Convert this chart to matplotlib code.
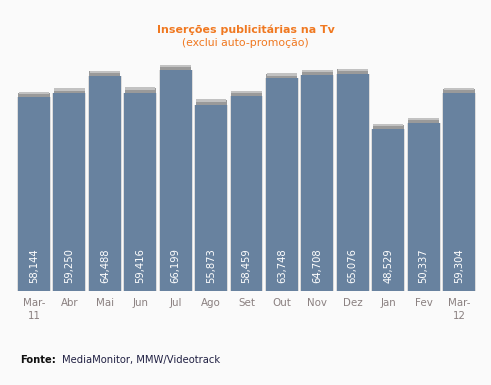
import matplotlib as mpl
import matplotlib.pyplot as plt
import numpy as np

mpl.rcParams["font.family"] = "DejaVu Sans"

# Data
months = ["Mar-\n11", "Abr", "Mai", "Jun", "Jul", "Ago", "Set", "Out", "Nov", "Dez", "Jan", "Fev", "Mar-\n12"]
insercoes = [58144, 59250, 64488, 59416, 66199, 55873, 58459, 63748, 64708, 65076, 48529, 50337, 59304]
value_labels = ["58,144", "59,250", "64,488", "59,416", "66,199", "55,873", "58,459",
                "63,748", "64,708", "65,076", "48,529", "50,337", "59,304"]

bg = "#fafafa"
fig = plt.figure(figsize=(4.91, 3.85), dpi=100, facecolor=bg)
ax = fig.add_axes([16.3 / 491, (385 - 291) / 385, 460.4 / 491, 233.6 / 385])
ax.set_facecolor(bg)

x = np.arange(len(months))
vals = np.array(insercoes)

# light shadow around bars
ax.bar(x, vals, width=0.96, color="#dcdcdc", zorder=1)
# gray cap on top
cap = 1500
ax.bar(x, cap, width=0.88, bottom=vals - 200, color="#9a9a9a", zorder=2)
ax.bar(x, cap * 0.5, width=0.86, bottom=vals + cap * 0.55, color="#c2c2c2", zorder=2)
ax.bar(x, vals, width=0.9, color="#68829f", zorder=3)

for xi, lab in zip(x, value_labels):
    ax.text(xi, 2300, lab, rotation=90, ha="center", va="bottom",
            color="white", fontsize=7.2, zorder=4)

ax.set_xlim(-0.5, len(months) - 0.5)
ax.set_ylim(0, 70000)
ax.set_xticks(x)
ax.set_xticklabels(months, color="#8a8080", fontsize=7.4, linespacing=1.35, va="top")
ax.tick_params(axis="x", length=0, pad=5)
ax.set_yticks([])
for s in ax.spines.values():
    s.set_visible(False)

fig.text(0.5, 1 - 30 / 385, "Inserções publicitárias na Tv", ha="center", va="center",
         color="#f07820", fontsize=7.9, fontweight="bold")
fig.text(0.5, 1 - 43 / 385, "(exclui auto-promoção)", ha="center", va="center",
         color="#f07820", fontsize=7.8)

fig.text(20 / 491, 1 - 360 / 385, "Fonte:", ha="left", va="center",
         color="#111111", fontsize=7.2, fontweight="bold")
fig.text(62 / 491, 1 - 360 / 385, "MediaMonitor, MMW/Videotrack", ha="left", va="center",
         color="#222244", fontsize=7.2)

fig.savefig("out.png", dpi=100, facecolor=bg)
